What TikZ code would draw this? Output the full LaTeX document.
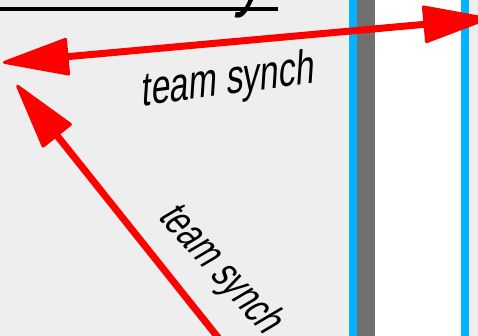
\documentclass[tikz,border=0pt]{standalone}
\usepackage{fontspec}
\usetikzlibrary{arrows.meta}
\newfontfamily\labfont[FakeStretch=0.71,FakeSlant=0.2]{Liberation Sans}
\definecolor{bggray}{HTML}{EEEEEE}
\definecolor{laneblue}{HTML}{00B4FF}
\definecolor{bargray}{HTML}{707070}
\definecolor{arrred}{HTML}{FF0000}
\begin{document}
\begin{tikzpicture}[x=1pt,y=-1pt,
  redarrow/.style={draw=arrred,line width=7pt},
  bighead/.tip={Triangle[length=70pt,width=38pt,line width=3pt,round]},
  lbl/.style={font=\labfont\fontsize{48}{48}\selectfont,inner sep=0pt,anchor=base}]
\useasboundingbox (0,0) rectangle (478,336);
\fill[bggray] (0,0) rectangle (478,336);
\fill[white] (375,0) rectangle (461.3,336);
\fill[laneblue] (349.3,0) rectangle (357.3,336);
\fill[bargray] (357.3,0) rectangle (375,336);
\fill[laneblue] (461.3,0) rectangle (469,336);
% title fragment
\draw[line width=4pt] (0,8.7) -- (278,8.7);
\node[font=\labfont\fontsize{80}{80}\selectfont,inner sep=0pt,anchor=base west] (title) at (236,2) {y};
% arrows
\coordinate (a1) at (3,62.5);
\coordinate (a2) at (489,18.5);
\coordinate (b1) at (228,350);
\coordinate (b2) at (16.7,85);
\draw[redarrow,bighead-bighead] (a1) -- (a2);
\draw[redarrow,-bighead] (b1) -- (b2);
\node[lbl,rotate=7.6] (l1) at (228,94.5) {team synch};
\node[lbl,rotate=-48,font=\labfont\fontsize{44}{44}\selectfont] (l2) at (210.5,276.4) {team synch};
\end{tikzpicture}
\end{document}
